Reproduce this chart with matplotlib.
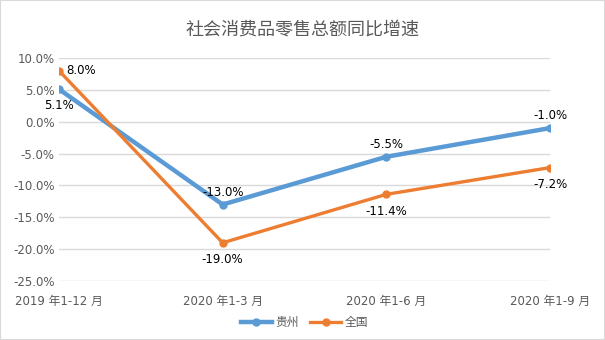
import matplotlib
matplotlib.use('Agg')
import matplotlib.pyplot as plt
from matplotlib.patches import Rectangle

plt.rcParams['font.family'] = ['DejaVu Sans', 'Noto Sans CJK SC']

categories = ['2019 年1-12 月', '2020 年1-3 月', '2020 年1-6 月', '2020 年1-9 月']
guizhou = [5.1, -13.0, -5.5, -1.0]
national = [8.0, -19.0, -11.4, -7.2]
yticks = [10, 5, 0, -5, -10, -15, -20, -25]

fig = plt.figure(figsize=(6.05, 3.4), dpi=100)
ax = fig.add_axes([59/605, 1-281/340, (550-59)/605, (281-58)/340])

x = range(len(categories))
ax.plot(x, guizhou, color='#5B9BD5', lw=3.2, marker='o', ms=5, label='贵州', zorder=3)
ax.plot(x, national, color='#ED7D31', lw=2.4, marker='o', ms=5, label='全国', zorder=4)

# data labels: (dx, dy) offsets in points
gz_off = [(0, -12), (0, 9), (0, 9), (0, 9)]
nt_off = [(16, 0), (0, -12), (0, -12), (0, -12)]
for i, v in enumerate(guizhou):
    ax.annotate(f'{v:.1f}%', (i, v), xytext=gz_off[i], textcoords='offset points',
                ha='center', va='center', fontsize=8.5, color='black')
for i, v in enumerate(national):
    ax.annotate(f'{v:.1f}%', (i, v), xytext=nt_off[i], textcoords='offset points',
                ha='center', va='center', fontsize=8.5, color='black')

ax.set_xlim(0, 3)
ax.set_ylim(-25, 10)
ax.set_yticks(yticks)
ax.set_yticklabels([f'{t:.1f}%' for t in yticks])
ax.set_xticks(list(x))
ax.set_xticklabels(categories)
ax.tick_params(length=0, labelsize=8.5, labelcolor='#595959', pad=3)
ax.tick_params(axis='x', pad=10)
ax.grid(axis='y', color='#d9d9d9', lw=1)
ax.set_axisbelow(True)
for s in ax.spines.values():
    s.set_visible(False)

fig.text(0.5, 1-30/340, '社会消费品零售总额同比增速', ha='center', va='center',
         fontsize=13, color='#595959')

ax.legend(loc='center', bbox_to_anchor=(0.5, -0.185), ncol=2, frameon=False,
          fontsize=8.5, labelcolor='#595959', handlelength=2.6, columnspacing=1.0,
          handletextpad=0.3)

fig.patches.append(Rectangle((0, 0), 1, 1, transform=fig.transFigure, fill=False,
                             edgecolor='#d9d9d9', lw=1.5))

fig.savefig('out.png', dpi=100)
